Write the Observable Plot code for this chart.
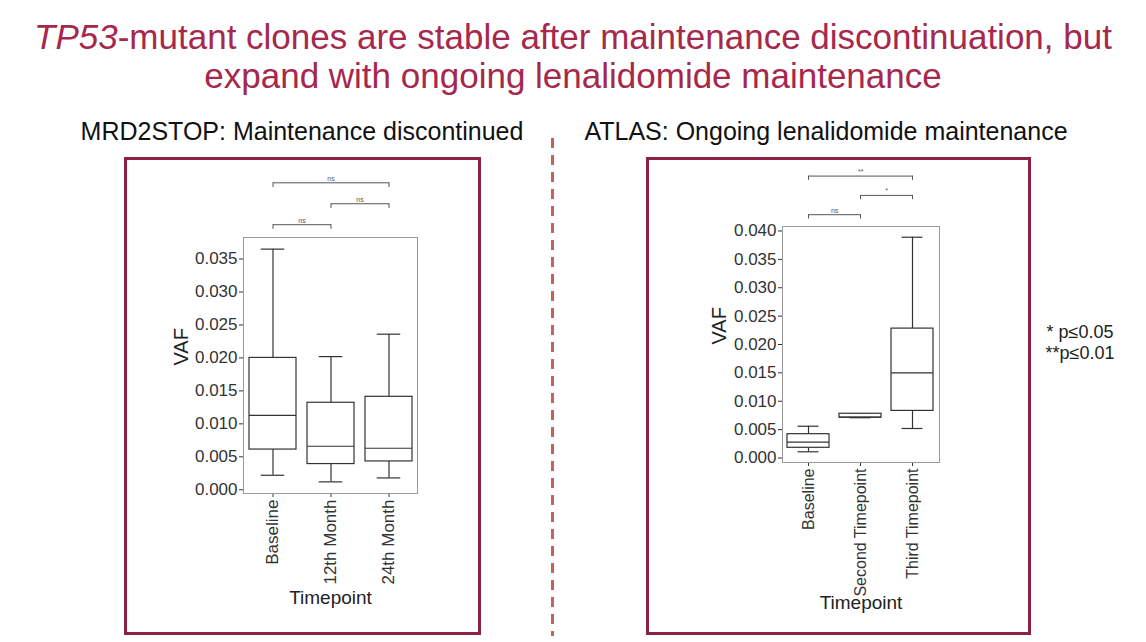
<!DOCTYPE html>
<html>
<head>
<meta charset="utf-8">
<script src="https://cdn.jsdelivr.net/npm/d3@7"></script>
<script src="https://cdn.jsdelivr.net/npm/@observablehq/plot@0.6"></script>
<style>
  body { margin: 0; background: #fff; font-family: "Liberation Sans", Arial, sans-serif; }
  #page { position: relative; width: 1146px; height: 642px; overflow: hidden; background: #fff; }
  .abs { position: absolute; }
  #title { left: 0; top: 17px; width: 1146px; text-align: center; color: #A6284D; font-size: 35px; line-height: 39px; white-space: nowrap; }
  .sub { top: 119px; width: 560px; text-align: center; font-size: 25px; line-height: 25px; color: #111; white-space: nowrap; }
  .panel { border: 3px solid #8C2045; box-sizing: border-box; }
  #sep { left: 551px; top: 138px; width: 3px; height: 498px;
         background: repeating-linear-gradient(to bottom, #C2625C 0 10px, transparent 10px 17px); }
  #legend { left: 1002px; top: 322px; width: 156px; text-align: center; font-size: 18px; line-height: 21px; color: #222; white-space: nowrap; }
  svg { overflow: visible; }
  #right [aria-label^="x-axis"] text { font-size: 16px; }
</style>
</head>
<body>
<div id="page">
  <div id="title" class="abs"><i>TP53</i>-mutant clones are stable after maintenance discontinuation, but<br>expand with ongoing lenalidomide maintenance</div>
  <div class="abs sub" style="left:22px">MRD2STOP: Maintenance discontinued</div>
  <div class="abs sub" style="left:546px">ATLAS: Ongoing lenalidomide maintenance</div>
  <div id="sep" class="abs"></div>
  <div id="left" class="abs" style="left:125px; top:158px;"></div>
  <div id="right" class="abs" style="left:647px; top:158px;"></div>
  <div class="abs panel" style="left:124px; top:157px; width:357px; height:478px;"></div>
  <div class="abs panel" style="left:646px; top:157px; width:385px; height:478px;"></div>
  <div id="legend" class="abs">* p≤0.05<br>**p≤0.01</div>
</div>
<script>
// ---- MRD2STOP (left) ----
const leftCategories = ["Baseline", "12th Month", "24th Month"];
const leftLow    = [0.0022, 0.0012, 0.0018];
const leftQ1     = [0.0061, 0.0039, 0.0043];
const leftMedian = [0.0113, 0.0066, 0.0063];
const leftQ3     = [0.0200, 0.0132, 0.0141];
const leftHigh   = [0.0365, 0.0202, 0.0236];
const leftTicks  = [0, 0.005, 0.010, 0.015, 0.020, 0.025, 0.030, 0.035];
const leftSigFrom  = ["Baseline", "12th Month", "Baseline"];
const leftSigTo    = ["12th Month", "24th Month", "24th Month"];
const leftSigLabel = ["ns", "ns", "ns"];

// ---- ATLAS (right) ----
const rightCategories = ["Baseline", "Second Timepoint", "Third Timepoint"];
const rightLow    = [0.0011, 0.0071, 0.0052];
const rightQ1     = [0.0018, 0.0071, 0.0083];
const rightMedian = [0.0028, 0.0072, 0.0150];
const rightQ3     = [0.0042, 0.0078, 0.0228];
const rightHigh   = [0.0056, 0.0078, 0.0389];
const rightTicks  = [0, 0.005, 0.010, 0.015, 0.020, 0.025, 0.030, 0.035, 0.040];
const rightSigFrom  = ["Baseline", "Second Timepoint", "Baseline"];
const rightSigTo    = ["Second Timepoint", "Third Timepoint", "Third Timepoint"];
const rightSigLabel = ["ns", "*", "**"];

const axisLabel = "VAF";
const xLabel = "Timepoint";

function boxPlot(cfg) {
  const {cats, low, q1, med, q3, high, ticks, sigFrom, sigTo, sigLabel,
         width, height, ml, mr, mt, mb, pi, po, capFrac, vafDx, tpDy} = cfg;
  const rows = cats.map((c, i) => ({cat: c, low: low[i], q1: q1[i], med: med[i], q3: q3[i], high: high[i]}));
  const lo = d3.min(low), hi = d3.max(high), r = hi - lo;
  const domain = [lo - 0.05 * r, hi + 0.05 * r];
  // significance brackets (ggsignif-like stacking above the data)
  const sig = sigFrom.map((f, i) => ({from: f, to: sigTo[i], label: sigLabel[i], level: i}));
  const lvl = d => hi + r * (0.105 + 0.09 * d.level);
  const tip = d => lvl(d) - r * 0.02;
  const step = (width - ml - mr) / (cats.length - pi + 2 * po);
  const bw = step * (1 - pi);
  const cap = bw * capFrac;
  const ink = "#333";
  const sigInk = "#555";
  return Plot.plot({
    width, height,
    marginLeft: ml, marginRight: mr, marginTop: mt, marginBottom: mb,
    style: {fontSize: "17px", fontFamily: "'Liberation Sans', Arial, sans-serif", color: "#333", background: "transparent", overflow: "visible"},
    x: {domain: cats, paddingInner: pi, paddingOuter: po, tickRotate: -90, tickSize: 4, tickPadding: 2, label: null},
    y: {domain, ticks, tickFormat: d3.format(".3f"), tickSize: 4, tickPadding: 2, label: null},
    marks: [
      Plot.frame({stroke: "#9a9a9a"}),
      Plot.ruleX(rows, {x: "cat", y1: "low", y2: "q1", stroke: ink, strokeWidth: 1.2}),
      Plot.ruleX(rows, {x: "cat", y1: "q3", y2: "high", stroke: ink, strokeWidth: 1.2}),
      Plot.tickY(rows, {x: "cat", y: "low", stroke: ink, strokeWidth: 1.2, insetLeft: cap, insetRight: cap}),
      Plot.tickY(rows, {x: "cat", y: "high", stroke: ink, strokeWidth: 1.2, insetLeft: cap, insetRight: cap}),
      Plot.barY(rows, {x: "cat", y1: "q1", y2: "q3", fill: "white", stroke: ink, strokeWidth: 1.2}),
      Plot.tickY(rows, {x: "cat", y: "med", stroke: ink, strokeWidth: 1.2}),
      Plot.link(sig, {x1: "from", x2: "to", y1: lvl, y2: lvl, stroke: sigInk, strokeWidth: 1}),
      Plot.ruleX(sig, {x: "from", y1: lvl, y2: tip, stroke: sigInk, strokeWidth: 1}),
      Plot.ruleX(sig, {x: "to", y1: lvl, y2: tip, stroke: sigInk, strokeWidth: 1}),
      ...sig.map(d => Plot.text([d], {
        x: "from", y: lvl, text: "label", fontSize: 7, fill: sigInk, lineAnchor: "bottom", dy: -2,
        dx: (cats.indexOf(d.to) - cats.indexOf(d.from)) * step / 2
      })),
      Plot.text([axisLabel], {frameAnchor: "left", dx: vafDx, rotate: -90, fontSize: 20, fill: "#222", lineAnchor: "middle"}),
      Plot.text([xLabel], {frameAnchor: "bottom", dy: tpDy, fontSize: 19, fill: "#222", lineAnchor: "middle"})
    ]
  });
}

document.getElementById("left").appendChild(boxPlot({
  cats: leftCategories, low: leftLow, q1: leftQ1, med: leftMedian, q3: leftQ3, high: leftHigh,
  ticks: leftTicks, sigFrom: leftSigFrom, sigTo: leftSigTo, sigLabel: leftSigLabel,
  width: 356, height: 476, ml: 118, mr: 64, mt: 79, mb: 141, pi: 0.19, po: 0.095, capFrac: 0.25,
  vafDx: -62, tpDy: 104
}));
document.getElementById("right").appendChild(boxPlot({
  cats: rightCategories, low: rightLow, q1: rightQ1, med: rightMedian, q3: rightQ3, high: rightHigh,
  ticks: rightTicks, sigFrom: rightSigFrom, sigTo: rightSigTo, sigLabel: rightSigLabel,
  width: 383, height: 476, ml: 135, mr: 91, mt: 68, mb: 172, pi: 0.19, po: 0.095, capFrac: 0.25,
  vafDx: -63, tpDy: 140
}));
</script>
</body>
</html>
